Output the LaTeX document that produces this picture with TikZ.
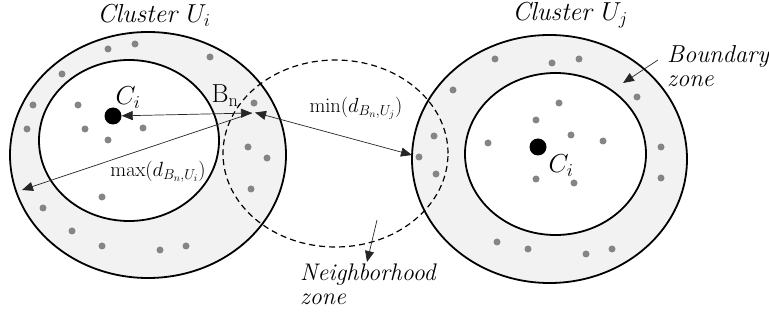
\RequirePackage{fix-cm}
\documentclass[tikz,border=0pt]{standalone}
\usetikzlibrary{arrows.meta}
\definecolor{zonefill}{HTML}{F2F2F2}
\definecolor{ptgray}{HTML}{858585}
\definecolor{wire}{HTML}{262626}
\tikzset{
  rim/.style={line width=1.8pt, fill=zonefill},
  core/.style={line width=1.8pt, fill=white},
  hood/.style={line width=1.2pt, dash pattern=on 6pt off 4pt},
  pt/.style={circle, fill=ptgray, inner sep=0pt, minimum size=7pt},
  centroid/.style={circle, fill=black, inner sep=0pt, minimum size=17pt},
  link/.style={line width=0.7pt, draw=wire, {Triangle[length=11pt,width=9pt]}-{Triangle[length=11pt,width=9pt]}},
  ptr/.style={line width=0.7pt, draw=wire, -{Triangle[length=11pt,width=9pt]}},
  lbl/.style={inner sep=0pt, font=\fontsize{24}{28}\selectfont},
  tlbl/.style={inner sep=0pt, font=\fontsize{26}{30}\selectfont},
  mlbl/.style={inner sep=0pt, font=\fontsize{20.5}{24}\selectfont},
}
\begin{document}
\begin{tikzpicture}[x=1pt, y=-1pt]
\useasboundingbox (0,0) rectangle (769,323);

% cluster U_i: boundary ring and core
\draw[rim] (148,155) ellipse [x radius=138pt, y radius=123pt];
\draw[core] (129,140.5) ellipse [x radius=90pt, y radius=80.5pt];

% cluster U_j: boundary ring and core
\draw[rim] (549.5,159) ellipse [x radius=137.5pt, y radius=124pt];
\draw[core] (555.5,154) ellipse [x radius=90.5pt, y radius=81pt];

% neighborhood zone of B_n
\draw[hood] (335.5,153.5) ellipse [x radius=112.5pt, y radius=93.5pt];

% points of U_i
\foreach \p in {(108,49),(135,44),(210,57),(62,74),(33,105),(27,129),
  (78,105),(85,129),(108,140),(143,128),(102,197),(43,208),(72,231),
  (102,246),(160,250),(186,246),(254,103),(248,147),(267,158),(251,189)}
  \node[pt] at \p {};

% points of U_j
\foreach \p in {(495,59),(552,63),(579,59),(453,90),(637,97),(559,103),
  (536,120),(571,135),(488,143),(603,141),(434,136),(419,157),(436,174),
  (536,179),(574,183),(661,147),(661,178),(497,242),(528,249),(586,254),
  (612,249)}
  \node[pt] at \p {};

% centroids
\node[centroid] (ci) at (113,116) {};
\node[centroid] (cj) at (538,147) {};

% boundary point B_n and distance end points
\coordinate (bnL) at (252,113);
\coordinate (bnR) at (255,112.5);
\coordinate (far) at (22,190);
\coordinate (near) at (412,155);

\draw[link] (ci) -- (bnL);
\draw[ptr] (bnL) -- (far);
\draw[link] (bnR) -- (near);

% titles and labels
\node[tlbl] (ti) at (154,15) {\textit{Cluster} $U_i$};
\node[tlbl] (tj) at (570,15) {\textit{Cluster} $U_j$};
\node[tlbl] (lci) at (128,98) {$C_i$};
\node[tlbl] (lcj) at (561,166) {$C_i$};
\node[tlbl] (lbn) at (225,96) {$\mathrm{B_n}$};
\node[mlbl] (lmax) at (158,172) {$\max(d_{B_n,U_i})$};
\node[mlbl] (lmin) at (356,108) {$\min(d_{B_n,U_j})$};

% zone labels with pointers
\node[lbl, align=left, anchor=north west, font=\fontsize{24.5}{28}\selectfont] (bz) at (667,45) {\textit{Boundary}\\[-4pt]\textit{zone}};
\coordinate (bzs) at (658,60);
\coordinate (bzt) at (623,83);
\draw[ptr] (bzs) -- (bzt);

\node[lbl, align=left, anchor=north west] (nz) at (300,264) {\textit{Neighborhood}\\[-4pt]\textit{zone}};
\coordinate (nzs) at (377,220);
\coordinate (nzt) at (367,262);
\draw[ptr] (nzs) -- (nzt);
\end{tikzpicture}
\end{document}
